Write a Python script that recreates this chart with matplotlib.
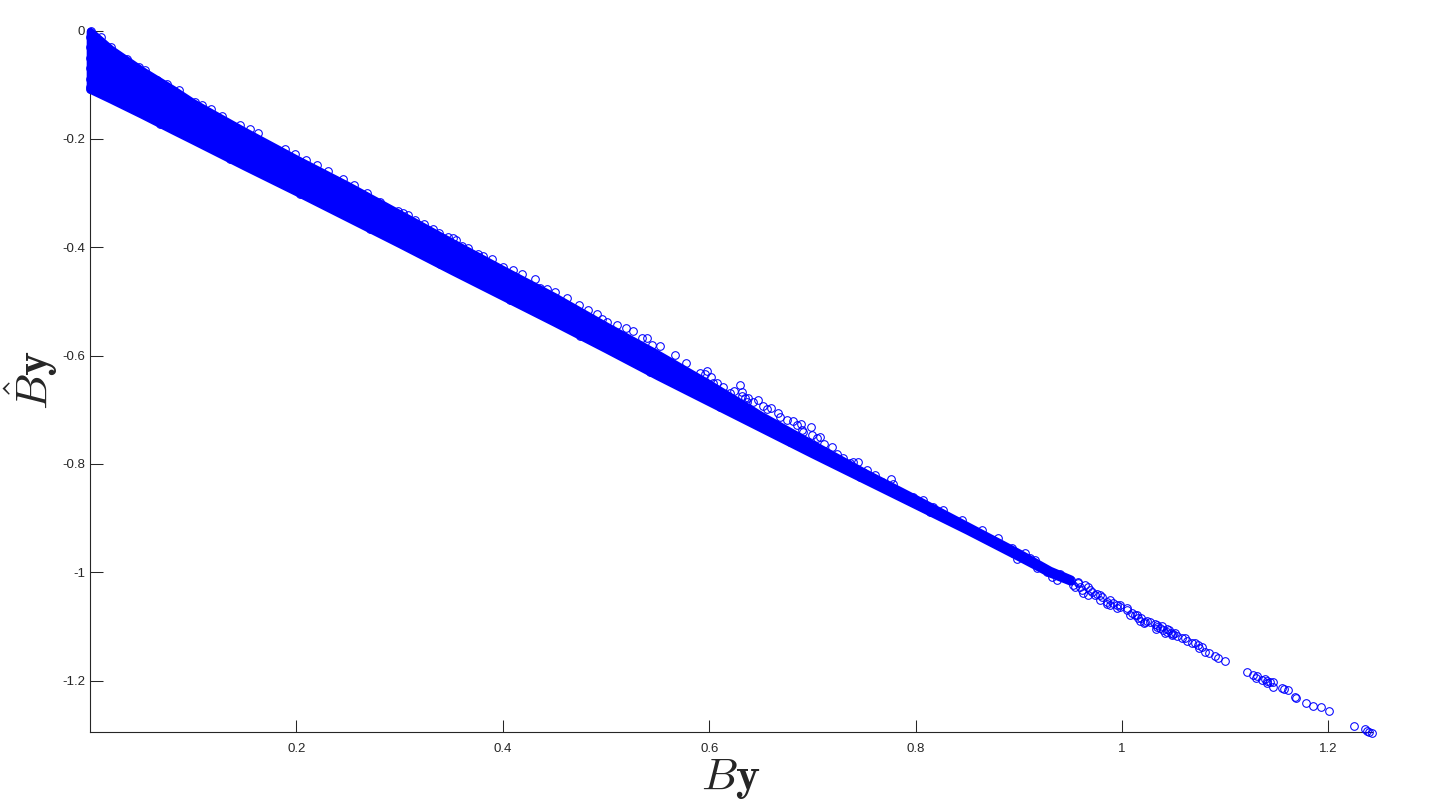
import matplotlib
matplotlib.use('Agg')
import matplotlib.pyplot as plt

# solid part of the band
band_x = [0, .02, .05, .08, .1, .15, .2, .25, .3, .35, .4, .45, .5, .55, .6, .65, .7, .75, .8, .85, .9, .93, .95]
band_upper = [-0.001, -0.034, -0.073, -0.108, -0.133, -0.186, -0.237, -0.286, -0.338, -0.390, -0.441, -0.491,
              -0.545, -0.597, -0.652, -0.710, -0.763, -0.815, -0.864, -0.914, -0.964, -0.996, -1.012]
band_lower = [-0.1089, -0.127, -0.155, -0.184, -0.203, -0.251, -0.298, -0.346, -0.394, -0.443, -0.491, -0.539,
              -0.588, -0.638, -0.686, -0.734, -0.782, -0.829, -0.876, -0.923, -0.972, -1.002, -1.017]

# circles visible on the upper edge
top_x = [0.0006, 0.0103, 0.0206, 0.0355, 0.0478, 0.0533, 0.0646, 0.0743, 0.0866, 0.1017, 0.1082, 0.1172, 0.1276,
         0.1453, 0.1550, 0.1631, 0.1890, 0.1986, 0.2093, 0.2196, 0.2309, 0.2448, 0.2558, 0.2681,
         0.2810, 0.2842, 0.2981, 0.3030, 0.3085, 0.3149, 0.3237, 0.3320, 0.3385, 0.3466, 0.3547, 0.3521, 0.3608,
         0.3666, 0.3763, 0.3805, 0.3892, 0.4005, 0.4096, 0.4186, 0.4315, 0.4361, 0.4425, 0.4503, 0.4619, 0.4739,
         0.4822, 0.4910, 0.4958, 0.5013, 0.5103, 0.5194, 0.5265, 0.5346, 0.5394, 0.5446, 0.5523, 0.5669,
         0.5775, 0.5976, 0.5959, 0.6018, 0.6079, 0.6137, 0.6299, 0.6244, 0.6321, 0.6379, 0.6476, 0.6525, 0.6599,
         0.6670, 0.6751, 0.6809, 0.6890, 0.6990, 0.6896, 0.6993, 0.7074, 0.7112, 0.7235, 0.7445, 0.7390, 0.7526,
         0.7607, 0.7758, 0.7784, 0.7978, 0.8069]
top_y = [0.0, -0.0120, -0.0311, -0.0526, -0.0668, -0.0729, -0.0914, -0.0988, -0.1099, -0.1314, -0.1376, -0.1450,
         -0.1579, -0.1745, -0.1825, -0.1899, -0.2188, -0.2280, -0.2385, -0.2490, -0.2594, -0.2736, -0.2853, -0.2994,
         -0.3160, -0.3240, -0.3327, -0.3376, -0.3407, -0.3499, -0.3579, -0.3671, -0.3733, -0.3807, -0.3868, -0.3837,
         -0.3979, -0.4022, -0.4127, -0.4157, -0.4225, -0.4361, -0.4422, -0.4502, -0.4588, -0.4761, -0.4779, -0.4822,
         -0.4945, -0.5068, -0.5161, -0.5241, -0.5333, -0.5376, -0.5437, -0.5499, -0.5548, -0.5684, -0.5671, -0.5807,
         -0.5825, -0.5990, -0.6133, -0.6281, -0.6342, -0.6404, -0.6502, -0.6588, -0.6545, -0.6650, -0.6669, -0.6792,
         -0.6822, -0.6933, -0.6964, -0.7069, -0.7192, -0.7210, -0.7265, -0.7315, -0.7376, -0.7469, -0.7512, -0.7635,
         -0.7819, -0.7961, -0.7961, -0.8115, -0.8207, -0.8281, -0.8373, -0.8607, -0.8669]

# rings just under the upper edge where the band frays
fringe_x = [0.6347, 0.6428, 0.6315, 0.6557, 0.6686, 0.6848, 0.6912, 0.7041, 0.7187, 0.7300, 0.7364, 0.7492, 0.7671,
            0.7849, 0.5911, 0.6040, 0.6202, 0.6363]
fringe_y = [-0.6792, -0.6853, -0.6749, -0.6995, -0.7142, -0.7284, -0.7407, -0.7530, -0.7696, -0.7899, -0.7992,
            -0.8146, -0.8330, -0.8515, -0.6330, -0.6515, -0.6699, -0.6853]

# circles on the lower edge and the left column
low_x = [0.0003, 0.0003, 0.0003, 0.0003, 0.0003, 0.0003, 0.0, 0.0678, 0.1357, 0.2035, 0.2713, 0.3391, 0.4070,
         0.4748, 0.5426, 0.6105, 0.6783, 0.7461, 0.8140]
low_y = [-0.012, -0.030, -0.050, -0.070, -0.090, -0.105, -0.1089, -0.173, -0.2373, -0.3013, -0.3656, -0.4318,
         -0.4981, -0.5641, -0.6305, -0.6952, -0.7598, -0.8244, -0.8890]

# loose tail, circles can be told apart here
tail_x = [0.8172, 0.8262, 0.8453, 0.8640, 0.8795, 0.8931, 0.8947, 0.8979, 0.9060, 0.9108, 0.9157, 0.9173, 0.9222,
          0.9270, 0.9318, 0.9367, 0.9399, 0.9448, 0.9503, 0.9528, 0.9577, 0.9593, 0.9625, 0.9674, 0.9706, 0.9754,
          0.9803, 0.9851, 0.9884, 0.9948, 0.9981, 1.0045, 1.0077, 1.0149, 1.0181, 1.0216, 1.0239, 1.0271, 1.0329,
          1.0336, 1.0174, 1.0223, 1.0320, 1.0342, 1.0368, 1.0384, 1.0400, 1.0417, 1.0433, 1.0439, 1.0459, 1.0472,
          1.0481, 1.0497, 1.0514, 1.0530, 1.0578, 1.0610, 1.0627, 1.0675, 1.0707, 1.0740, 1.0749, 1.0772, 1.0804,
          1.0840, 1.0898, 1.0933, 1.0998,
          0.9577, 0.9642, 0.9690, 0.9739, 0.9787, 0.9852, 0.9916, 0.9981, 1.0045, 1.0126, 1.0158, 0.9545, 0.9609,
          0.9674, 0.9787, 0.9884, 0.9948, 1.0094,
          1.1214, 1.1266, 1.1311, 1.1298, 1.1353, 1.1386, 1.1402, 1.1434, 1.1408, 1.1466, 1.1460, 1.1547, 1.1570,
          1.1612, 1.1676, 1.1683, 1.1786, 1.1854, 1.1925, 1.2006, 1.2245, 1.2355, 1.2377, 1.2390, 1.2426]
tail_y = [-0.8792, -0.8853, -0.9038, -0.9223, -0.9377, -0.9561, -0.9653, -0.9764, -0.9653, -0.9746, -0.9777, -0.9930,
          -0.9900, -0.9992, -1.0084, -1.0146, -1.0035, -1.0115, -1.0146, -1.0238, -1.0177, -1.0281, -1.0392, -1.0281,
          -1.0361, -1.0404, -1.0454, -1.0589, -1.0515, -1.0608, -1.0638, -1.0669, -1.0792, -1.0792, -1.0854, -1.0946,
          -1.0897, -1.0915, -1.1057, -1.0977, -1.0897, -1.0915, -1.0958, -1.1007, -1.1038, -1.0995, -1.1069, -1.1131,
          -1.1057, -1.1100, -1.1069, -1.1118, -1.1161, -1.1143, -1.1131, -1.1174, -1.1223, -1.1223, -1.1266, -1.1303,
          -1.1315, -1.1346, -1.1407, -1.1377, -1.1475, -1.1487, -1.1543, -1.1586, -1.1647,
          -1.0207, -1.0238, -1.0330, -1.0422, -1.0422, -1.0546, -1.0576, -1.0607, -1.0699, -1.0792, -1.0853, -1.0269,
          -1.0330, -1.0422, -1.0515, -1.0607, -1.0669, -1.0761,
          -1.1844, -1.1900, -1.1912, -1.1961, -1.1992, -1.1980, -1.2005, -1.2023, -1.2054, -1.2035, -1.2115, -1.2140,
          -1.2158, -1.2183, -1.2312, -1.2318, -1.2411, -1.2472, -1.2497, -1.2571, -1.2848, -1.2897, -1.2928, -1.2946,
          -1.2977]

x_ticks = [0.2, 0.4, 0.6, 0.8, 1, 1.2]
x_labels = ['0.2', '0.4', '0.6', '0.8', '1', '1.2']
y_ticks = [0, -0.2, -0.4, -0.6, -0.8, -1, -1.2]
y_labels = ['0', '-0.2', '-0.4', '-0.6', '-0.8', '-1', '-1.2']

plt.rcParams['font.family'] = ['Liberation Sans', 'DejaVu Sans']
plt.rcParams['mathtext.fontset'] = 'cm'

dark = '#262626'
fig = plt.figure(figsize=(14.4, 8.1), dpi=100)
ax = fig.add_axes([90 / 1440, 1 - 732 / 810, 1282 / 1440, 701.5 / 810])

# stroke as wide as a circle so the solid band reaches the outer rim of the rings
ax.fill_between(band_x, band_upper, band_lower, facecolor='#0000ff', edgecolor='#0000ff', linewidth=5.5,
                joinstyle='round', clip_on=False, zorder=4)
for xs, ys in [(top_x, top_y), (fringe_x, fringe_y), (low_x, low_y), (tail_x, tail_y)]:
    ax.plot(xs, ys, linestyle='none', marker='o', markersize=5.5, markeredgewidth=0.75,
            markerfacecolor='none', markeredgecolor='#0000ff', clip_on=False, zorder=5)

ax.set_xlim(0, 1.2422)
ax.set_ylim(-1.295, 0)
ax.set_xticks(x_ticks, x_labels)
ax.set_yticks(y_ticks, y_labels)
ax.tick_params(direction='in', length=9, width=0.75, color=dark, labelcolor=dark, labelsize=9.5)
ax.tick_params(axis='x', pad=8)
ax.tick_params(axis='y', pad=3.6)
ax.spines['top'].set_visible(False)
ax.spines['right'].set_visible(False)
ax.spines['left'].set_color(dark)
ax.spines['bottom'].set_color(dark)

fig.text(730.5 / 1440, 1 - 779 / 810, r'$B\mathbf{y}$', fontsize=33, color=dark, ha='center', va='center')
fig.text(31 / 1440, 1 - 380 / 810, r'$\hat{B}\mathbf{y}$', fontsize=33, color=dark, ha='center', va='center',
         rotation=90)

fig.savefig('out.png', dpi=100)
